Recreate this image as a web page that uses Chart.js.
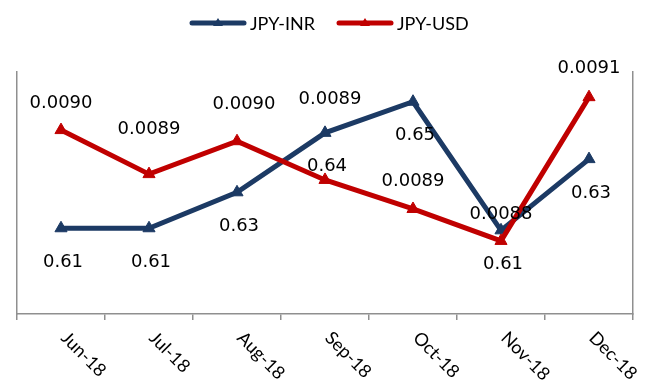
<!DOCTYPE html>
<html>
<head>
<meta charset="utf-8">
<script src="https://cdn.jsdelivr.net/npm/chart.js@4.4.1/dist/chart.umd.min.js"></script>
<style>
  html, body { margin: 0; padding: 0; background: #ffffff; }
  #wrap { width: 649px; height: 380px; }
</style>
</head>
<body>
<div id="wrap"><canvas id="c" width="649" height="380"></canvas></div>
<script>
// Monthly exchange rates, June to December 2018
const months = ['Jun-18', 'Jul-18', 'Aug-18', 'Sep-18', 'Oct-18', 'Nov-18', 'Dec-18'];
const jpyInr = [0.6148, 0.6148, 0.6252, 0.6424, 0.6514, 0.6142, 0.6348];
const jpyUsd = [0.00903, 0.008939, 0.009007, 0.008927, 0.008867, 0.008801, 0.009098];
const seriesNames = ['JPY-INR', 'JPY-USD'];

const NAVY = '#1c3a64';
const RED = '#c00000';
const AXIS = '#8f8f8f';
const LABEL_FONT = '18px "DejaVu Sans"';
const CAT_FONT = '18px Lato';

// How far each JPY-USD value label sits above / right of its point
const usdLabelRise = [29, 47, 39, 82, 29, 28, 31];
const usdLabelShift = [0, 0, 7, 5, 0, 0, 0];

const decorations = {
  id: 'decorations',
  afterDatasetsDraw(chart) {
    const ctx = chart.ctx;
    const x = chart.scales.x;
    ctx.save();
    ctx.font = LABEL_FONT;
    ctx.fillStyle = '#000000';
    ctx.textAlign = 'center';
    ctx.textBaseline = 'alphabetic';
    // value labels: JPY-INR below its points, JPY-USD above
    chart.getDatasetMeta(0).data.forEach((pt, i) => {
      ctx.fillText(jpyInr[i].toFixed(2), pt.x + 2, pt.y + 32 + 6.5);
    });
    chart.getDatasetMeta(1).data.forEach((pt, i) => {
      ctx.fillText(jpyUsd[i].toFixed(4), pt.x + usdLabelShift[i], pt.y - usdLabelRise[i] + 6.5);
    });

    // slanted month labels under the category axis
    ctx.font = CAT_FONT;
    ctx.fillStyle = '#000000';
    ctx.textAlign = 'left';
    months.forEach((m, i) => {
      const px = x.getPixelForTick(i);
      ctx.save();
      ctx.translate(px - 1, x.top + 25);
      ctx.rotate(Math.PI / 4);
      ctx.fillText(m, 0, 0);
      ctx.restore();
    });

    // legend: line with triangle marker and series name
    const colors = [NAVY, RED];
    const starts = [192, 339];
    const cy = 23;
    ctx.textBaseline = 'middle';
    seriesNames.forEach((name, k) => {
      const x0 = starts[k], x1 = x0 + 52;
      ctx.strokeStyle = colors[k];
      ctx.lineWidth = 5;
      ctx.lineCap = 'round';
      ctx.beginPath();
      ctx.moveTo(x0, cy);
      ctx.lineTo(x1, cy);
      ctx.stroke();
      const mx = (x0 + x1) / 2;
      ctx.fillStyle = colors[k];
      ctx.beginPath();
      ctx.moveTo(mx, cy - 5);
      ctx.lineTo(mx + 5, cy + 3);
      ctx.lineTo(mx - 5, cy + 3);
      ctx.closePath();
      ctx.fill();
      ctx.fillStyle = '#000000';
      ctx.fillText(name, x1 + 6, cy + 1);
    });
    ctx.restore();
  }
};

new Chart(document.getElementById('c'), {
  type: 'line',
  data: {
    labels: months,
    datasets: [
      {
        label: seriesNames[0],
        data: jpyInr,
        yAxisID: 'yInr',
        borderColor: NAVY,
        backgroundColor: NAVY,
        borderWidth: 5,
        pointStyle: 'triangle',
        pointRadius: 7,
        pointBorderWidth: 1,
        tension: 0,
        order: 1
      },
      {
        label: seriesNames[1],
        data: jpyUsd,
        yAxisID: 'yUsd',
        borderColor: RED,
        backgroundColor: RED,
        borderWidth: 5,
        pointStyle: 'triangle',
        pointRadius: 7,
        pointBorderWidth: 1,
        tension: 0,
        order: 0
      }
    ]
  },
  options: {
    responsive: false,
    animation: false,
    devicePixelRatio: 1,
    layout: { padding: { top: 72, left: 17, right: 16, bottom: 60 } },
    plugins: {
      legend: { display: false },
      tooltip: { enabled: false }
    },
    scales: {
      x: {
        type: 'category',
        offset: true,
        ticks: { display: false },
        grid: {
          display: true,
          offset: true,
          drawOnChartArea: false,
          drawTicks: true,
          tickLength: 6,
          color: AXIS,
          lineWidth: 1.5
        },
        border: { display: true, color: AXIS, width: 1.5 }
      },
      yInr: {
        type: 'linear',
        position: 'left',
        min: 0.59,
        max: 0.66,
        ticks: { display: false },
        grid: { display: false, drawTicks: false },
        border: { display: true, color: AXIS, width: 1.5 }
      },
      yUsd: {
        type: 'linear',
        position: 'right',
        min: 0.00865,
        max: 0.00915,
        ticks: { display: false },
        grid: { display: false, drawTicks: false },
        border: { display: true, color: AXIS, width: 1.5 }
      }
    }
  },
  plugins: [decorations]
});
</script>
</body>
</html>
